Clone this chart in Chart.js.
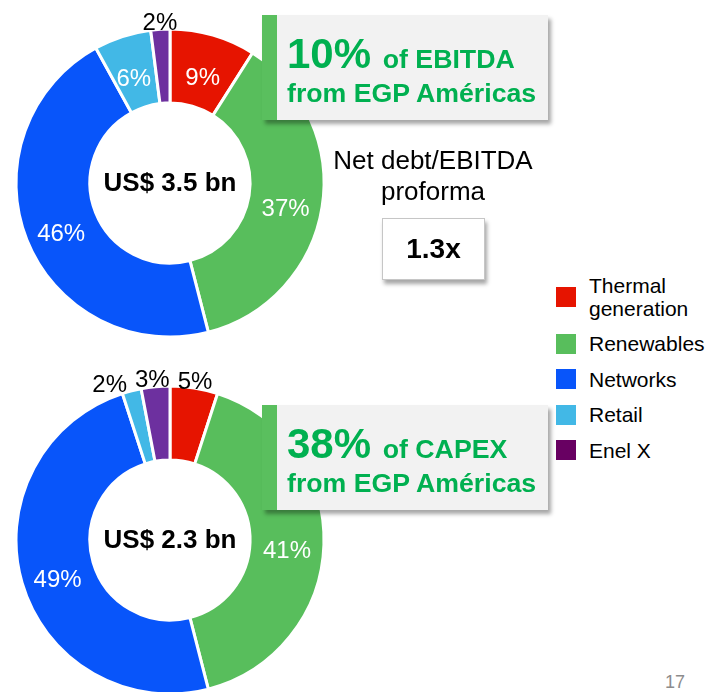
<!DOCTYPE html>
<html><head><meta charset="utf-8">
<script src="https://cdn.jsdelivr.net/npm/chart.js@4.4.1/dist/chart.umd.min.js"></script>
<style>
html,body{margin:0;padding:0;width:710px;height:692px;overflow:hidden;background:#fff;font-family:"Liberation Sans",Arial,sans-serif;}
canvas{position:absolute;}
.gbox{position:absolute;left:262px;width:286px;height:105px;box-sizing:border-box;background:#f2f2f2;border-left:15px solid #5abf5e;box-shadow:3px 4px 4px rgba(0,0,0,0.35);z-index:5;color:#00b050;font-weight:bold;}
.gbox .l1{position:absolute;left:10px;top:17.5px;white-space:nowrap;font-size:42px;line-height:42px;}
.gbox .l1 span{font-size:26.7px;}
.gbox .l2{position:absolute;left:10px;top:64.5px;white-space:nowrap;font-size:26.7px;line-height:26.7px;}
#netdebt{position:absolute;left:323px;top:144.5px;width:220px;text-align:center;font-size:26px;line-height:31px;color:#000;}
#ratio{position:absolute;left:382px;top:218px;width:103px;height:62px;box-sizing:border-box;background:#fff;border:1px solid #c6c6c6;box-shadow:2px 4px 4px rgba(0,0,0,0.35);display:flex;align-items:center;justify-content:center;font-weight:bold;font-size:28px;line-height:28px;}
#legend{position:absolute;left:556px;top:273.5px;display:flex;flex-direction:column;gap:12.5px;}
.li{display:flex;align-items:center;}
.sw{width:20px;height:20px;flex:none;margin-right:13px;}
.lt{width:121px;font-size:21px;line-height:23px;color:#000;}
#pg{position:absolute;left:665px;top:672px;font-size:18px;line-height:20px;color:#8c8c8c;}
</style></head><body>
<canvas id="c1" width="340" height="366" style="left:0;top:0"></canvas>
<canvas id="c2" width="340" height="340" style="left:0;top:357px"></canvas>

<div class="gbox" style="top:15px"><div class="l1" id="t1a"></div><div class="l2" id="t1b"></div></div>
<div class="gbox" style="top:405px"><div class="l1" id="t2a"></div><div class="l2" id="t2b"></div></div>
<div id="netdebt"></div>
<div id="ratio"></div>
<div id="legend"></div>
<div id="pg"></div>

<script>
// ---- data ----
const categories = ['Thermal generation', 'Renewables', 'Networks', 'Retail', 'Enel X'];
const ebitdaShares = [9, 37, 46, 6, 2];
const capexShares = [5, 41, 49, 2, 3];
const ebitdaTotal = 'US$ 3.5 bn';
const capexTotal = 'US$ 2.3 bn';
const ebitdaCallout = ['10%', 'of EBITDA', 'from EGP Américas'];
const capexCallout = ['38%', 'of CAPEX', 'from EGP Américas'];
const netDebtLabel = ['Net debt/EBITDA', 'proforma'];
const netDebtRatio = '1.3x';
const pageNumber = '17';

// ---- styles ----
const sliceColors = ['#e61400', '#58be5c', '#0855fa', '#42b8e6', '#6d309f'];
const legendColors = ['#e61400', '#58be5c', '#0855fa', '#42b8e6', '#680062'];
const FONT = '"Liberation Sans", Arial, sans-serif';

const sliceLabels = {
  id: 'sliceLabels',
  afterDatasetsDraw(chart, args, opts) {
    const ctx = chart.ctx;
    const meta = chart.getDatasetMeta(0);
    const data = chart.data.datasets[0].data;
    ctx.save();
    ctx.font = '24px ' + FONT;
    ctx.textAlign = 'center';
    ctx.textBaseline = 'middle';
    const outside = [];
    meta.data.forEach((arc, i) => {
      const p = arc.getProps(['x', 'y', 'startAngle', 'endAngle', 'innerRadius', 'outerRadius'], true);
      const mid = (p.startAngle + p.endAngle) / 2;
      const txt = data[i] + '%';
      if (data[i] <= 5) {
        const r = p.outerRadius + 6;
        outside.push({ txt, x: p.x + r * Math.cos(mid), y: p.y + r * Math.sin(mid) });
      } else {
        const r = (p.innerRadius + p.outerRadius) / 2;
        ctx.fillStyle = '#ffffff';
        ctx.fillText(txt, p.x + r * Math.cos(mid), p.y + r * Math.sin(mid) + 8);
      }
    });
    outside.sort((a, b) => a.x - b.x);
    for (let i = outside.length - 2; i >= 0; i--) {
      const minD = (ctx.measureText(outside[i].txt).width + ctx.measureText(outside[i + 1].txt).width) / 2 + 8;
      if (outside[i + 1].x - outside[i].x < minD) outside[i].x = outside[i + 1].x - minD;
    }
    ctx.fillStyle = '#000000';
    outside.forEach(o => ctx.fillText(o.txt, o.x, o.y));
    const c = meta.data[0];
    ctx.font = 'bold 26px ' + FONT;
    ctx.fillText(opts.centerText, c.x, c.y + 1);
    ctx.restore();
  }
};

function makeDoughnut(id, values, centerText, padding) {
  return new Chart(document.getElementById(id), {
    type: 'doughnut',
    data: {
      labels: categories,
      datasets: [{ data: values, backgroundColor: sliceColors, borderColor: '#ffffff', borderWidth: 3 }]
    },
    options: {
      responsive: false,
      animation: false,
      events: [],
      cutout: '52%',
      layout: { padding },
      plugins: { legend: { display: false }, tooltip: { enabled: false }, sliceLabels: { centerText } }
    },
    plugins: [sliceLabels]
  });
}

makeDoughnut('c1', ebitdaShares, ebitdaTotal, { left: 14.5, right: 14.5, top: 27.5, bottom: 27.5 });
makeDoughnut('c2', capexShares, capexTotal, { left: 14.5, right: 14.5, top: 27.5, bottom: 1.5 });

function fillCallout(a, b, parts) {
  const el = document.getElementById(a);
  el.textContent = parts[0] + ' ';
  const s = document.createElement('span');
  s.textContent = parts[1];
  el.appendChild(s);
  document.getElementById(b).textContent = parts[2];
}
fillCallout('t1a', 't1b', ebitdaCallout);
fillCallout('t2a', 't2b', capexCallout);

document.getElementById('netdebt').innerHTML = netDebtLabel.join('<br>');
document.getElementById('ratio').textContent = netDebtRatio;
document.getElementById('pg').textContent = pageNumber;

const lg = document.getElementById('legend');
categories.forEach((name, i) => {
  const row = document.createElement('div');
  row.className = 'li';
  const sw = document.createElement('div');
  sw.className = 'sw';
  sw.style.background = legendColors[i];
  const t = document.createElement('div');
  t.className = 'lt';
  t.textContent = name;
  row.appendChild(sw); row.appendChild(t);
  lg.appendChild(row);
});
</script>
</body></html>
